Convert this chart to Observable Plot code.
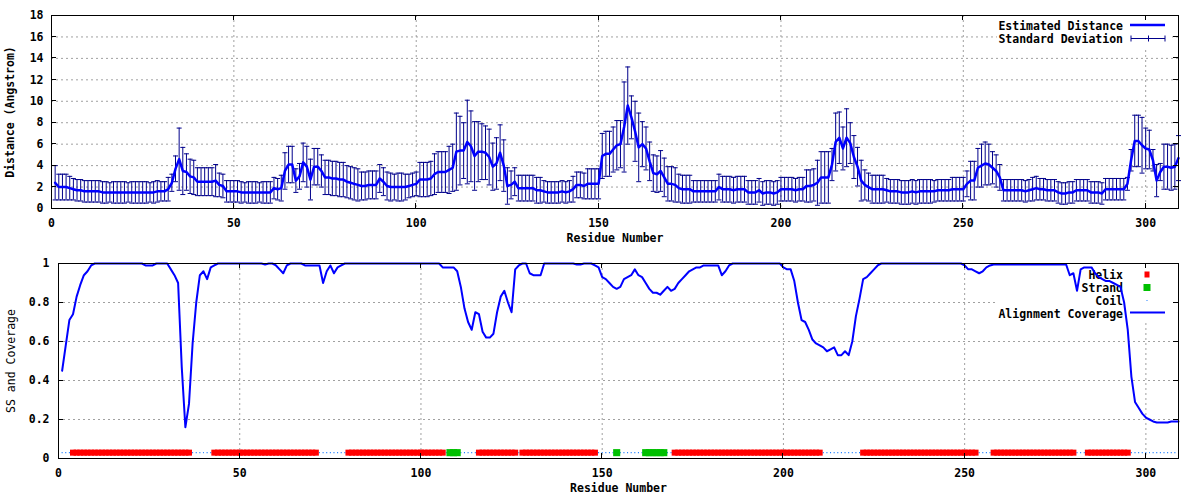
<!DOCTYPE html>
<html><head><meta charset="utf-8">
<script src="https://cdn.jsdelivr.net/npm/d3@7"></script>
<script src="https://cdn.jsdelivr.net/npm/@observablehq/plot@0.6"></script>
<style>
body{margin:0;background:#fff;width:1200px;height:500px;overflow:hidden;}
#chart svg{display:block;}
</style>
</head><body><div id="chart"></div>
<script>
// ---------- data ----------
const residues = d3.range(1, 310); // residue numbers 1..309

const distance = [
 2.4,2.0,2.0,2.0,1.9,1.8,1.7,1.7,1.6,1.6,
 1.6,1.6,1.6,1.5,1.5,1.5,1.5,1.5,1.5,1.5,
 1.5,1.5,1.5,1.5,1.5,1.5,1.5,1.5,1.6,1.6,
 1.6,1.8,2.4,3.7,4.6,3.5,3.4,3.0,2.9,2.5,
 2.5,2.5,2.5,2.5,2.6,2.2,2.1,1.6,1.6,1.6,
 1.6,1.5,1.5,1.5,1.5,1.5,1.5,1.5,1.5,1.5,
 1.9,1.8,1.9,3.5,4.1,4.1,2.6,3.0,4.3,3.9,
 2.7,3.9,3.9,3.5,2.9,2.9,2.8,2.8,2.7,2.7,
 2.5,2.4,2.3,2.2,2.1,2.1,2.2,2.2,2.2,2.8,
 2.5,2.1,2.0,2.0,2.0,2.0,2.0,2.1,2.2,2.3,
 2.7,2.7,2.7,2.8,3.2,3.4,3.4,3.4,3.6,3.8,
 5.3,5.4,5.4,6.2,5.8,4.9,5.3,5.3,5.2,4.8,
 3.9,4.2,5.2,4.0,2.1,2.2,2.5,1.9,1.9,1.9,
 1.9,1.9,1.7,1.7,1.6,1.5,1.5,1.5,1.5,1.6,
 1.5,1.6,1.8,2.2,2.2,2.1,2.3,2.3,2.3,2.3,
 4.9,5.1,5.1,5.5,5.9,6.0,7.6,9.6,8.5,7.2,
 5.7,6.0,5.6,4.4,3.3,3.2,3.5,2.9,2.3,2.3,
 2.2,1.9,1.8,1.8,1.8,1.6,1.6,1.6,1.6,1.6,
 1.6,1.6,2.0,1.8,1.8,1.8,1.7,1.8,1.8,1.8,
 1.5,1.5,1.5,1.7,1.4,1.5,1.5,1.4,1.5,1.8,
 1.8,1.8,1.8,1.7,1.8,1.8,2.1,2.1,2.2,2.4,
 2.9,2.9,2.9,4.1,6.2,6.6,5.6,6.6,6.1,4.8,
 3.9,2.6,2.2,2.0,1.8,1.8,1.8,1.8,1.7,1.6,
 1.6,1.6,1.5,1.5,1.5,1.6,1.5,1.6,1.6,1.6,
 1.6,1.6,1.7,1.7,1.7,1.7,1.8,1.8,1.8,1.8,
 2.3,2.6,2.6,3.8,4.0,4.2,4.1,3.8,3.5,2.9,
 1.7,1.7,1.7,1.7,1.7,1.7,1.6,1.7,1.8,1.9,
 1.8,1.8,1.7,1.7,1.7,1.5,1.4,1.4,1.5,1.5,
 1.7,1.7,1.7,1.7,1.5,1.5,1.5,1.4,1.8,1.8,
 1.8,1.8,1.8,1.8,2.3,4.5,6.3,6.3,5.9,5.6,
 5.5,4.5,2.6,3.4,3.9,3.9,3.8,3.9,4.7
];

const stdDev = [
 1.6,1.2,1.2,1.2,1.1,1.0,1.0,1.0,1.0,1.0,
 1.0,1.0,1.0,1.0,1.0,0.9,1.0,1.0,1.0,1.0,
 0.9,1.0,1.0,1.0,1.0,1.0,0.9,1.0,1.0,0.9,
 0.9,1.1,0.8,1.2,2.9,2.2,1.7,1.6,1.6,1.3,
 1.3,1.3,1.3,1.3,1.5,1.1,1.1,1.0,1.0,1.0,
 1.0,1.0,0.9,1.0,1.0,1.0,0.9,1.0,1.0,1.0,
 1.0,1.0,1.2,1.7,1.7,1.7,1.1,1.2,1.8,1.9,
 1.9,1.7,1.7,1.5,1.6,1.6,1.6,1.6,1.6,1.6,
 1.5,1.5,1.5,1.5,1.3,1.3,1.3,1.3,1.3,1.3,
 1.3,1.3,1.3,1.2,1.3,1.3,1.2,1.1,1.1,1.1,
 1.6,1.6,1.6,1.6,1.9,1.9,1.9,1.9,2.2,2.2,
 3.6,3.2,2.6,3.9,3.3,3.2,2.8,2.6,2.5,2.6,
 2.2,2.4,2.6,2.4,1.7,1.3,1.3,1.2,1.2,1.2,
 1.2,1.2,1.2,1.2,1.0,1.0,1.0,1.0,1.0,1.0,
 1.0,1.0,1.2,1.2,1.2,1.2,1.4,1.4,1.4,1.4,
 2.1,2.1,2.1,2.1,2.3,2.2,4.2,3.6,2.0,2.8,
 3.2,2.1,2.0,1.8,1.7,1.7,1.9,1.8,1.6,1.6,
 1.6,1.3,1.3,1.3,1.3,1.0,1.0,1.0,1.0,1.0,
 1.0,1.0,1.2,1.2,1.2,1.2,1.2,1.2,1.2,1.2,
 1.1,1.1,1.1,1.1,1.1,1.1,1.1,1.1,1.1,1.1,
 1.1,1.1,1.1,1.1,1.1,1.1,1.5,1.5,1.5,2.1,
 2.4,2.4,2.4,1.5,2.7,2.4,2.0,2.7,1.9,2.0,
 1.8,1.9,1.4,1.3,1.3,1.3,1.3,1.3,1.1,1.1,
 1.1,1.1,1.1,1.1,1.1,1.1,1.1,1.1,1.1,1.1,
 1.1,1.0,1.0,1.0,1.0,1.0,1.1,1.1,1.1,1.1,
 1.2,1.8,1.8,1.8,2.0,2.0,1.9,1.5,1.5,1.2,
 1.0,1.0,1.0,1.0,1.0,1.0,1.0,1.0,1.1,1.1,
 1.0,1.0,1.0,1.0,1.0,1.0,1.0,1.0,1.0,1.0,
 1.0,1.0,1.0,1.0,1.0,1.0,1.0,1.0,1.0,1.0,
 1.0,1.0,1.0,1.0,0.6,1.0,2.4,2.4,2.6,1.9,
 1.8,1.0,1.5,0.8,2.1,2.1,2.1,2.1,2.1
];

const coverage = [
 0.45,0.58,0.71,0.74,0.83,0.89,0.94,0.96,0.99,1.0,
 1.0,1.0,1.0,1.0,1.0,1.0,1.0,1.0,1.0,1.0,
 1.0,1.0,1.0,0.99,0.99,0.99,1.0,1.0,1.0,1.0,
 0.97,0.94,0.90,0.47,0.16,0.28,0.59,0.80,0.94,0.96,
 0.92,0.98,0.99,1.0,1.0,1.0,1.0,1.0,1.0,1.0,
 1.0,1.0,1.0,1.0,1.0,1.0,0.995,1.0,1.0,0.99,
 0.97,0.95,0.99,1.0,1.0,1.0,1.0,0.99,0.99,0.99,
 0.99,0.99,0.90,0.96,0.99,0.95,0.98,0.99,1.0,1.0,
 1.0,1.0,1.0,1.0,1.0,1.0,1.0,1.0,1.0,1.0,
 1.0,1.0,1.0,1.0,1.0,1.0,1.0,1.0,1.0,1.0,
 1.0,1.0,1.0,1.0,1.0,0.98,0.98,0.98,0.98,0.96,
 0.88,0.77,0.70,0.66,0.75,0.74,0.65,0.62,0.62,0.64,
 0.75,0.83,0.86,0.80,0.75,0.97,0.99,1.0,1.0,0.95,
 0.94,0.94,0.94,1.0,1.0,1.0,1.0,1.0,1.0,1.0,
 1.0,1.0,0.995,0.995,1.0,1.0,1.0,0.99,0.98,0.93,
 0.92,0.90,0.88,0.87,0.88,0.92,0.93,0.94,0.97,0.94,
 0.93,0.90,0.87,0.85,0.85,0.84,0.86,0.88,0.86,0.87,
 0.90,0.92,0.94,0.96,0.97,0.98,0.98,0.99,0.99,0.99,
 0.99,0.99,0.94,0.96,0.99,1.0,1.0,1.0,1.0,1.0,
 1.0,1.0,1.0,1.0,1.0,1.0,1.0,1.0,1.0,0.98,
 0.97,0.97,0.91,0.80,0.71,0.70,0.66,0.61,0.59,0.58,
 0.57,0.55,0.56,0.57,0.53,0.53,0.55,0.53,0.60,0.73,
 0.82,0.92,0.93,0.95,0.97,0.99,1.0,1.0,1.0,1.0,
 1.0,1.0,1.0,1.0,1.0,1.0,1.0,1.0,1.0,1.0,
 1.0,1.0,1.0,1.0,1.0,1.0,1.0,1.0,1.0,0.99,
 0.97,0.97,0.96,0.95,0.96,0.98,0.99,0.995,0.995,0.995,
 0.995,0.995,0.995,0.995,0.995,0.995,0.995,0.995,0.995,0.995,
 0.995,0.995,0.995,0.995,0.995,0.995,0.995,0.995,0.94,0.95,
 0.86,0.97,0.98,0.98,0.98,0.95,0.93,0.92,0.91,0.91,
 0.90,0.89,0.88,0.80,0.66,0.42,0.29,0.26,0.23,0.21,
 0.20,0.19,0.185,0.185,0.185,0.185,0.19,0.19,0.19
];

// secondary structure (residue ranges)
const helixRanges  = [[4,36],[43,71],[80,106],[116,126],[128,148],[170,210],[222,253],[258,280],[284,295]];
const strandRanges = [[108,110],[154,154],[162,167]];
const ssLevel = 0.03;

// ticks
const xTicks    = [0, 50, 100, 150, 200, 250, 300];
const distTicks = [0, 2, 4, 6, 8, 10, 12, 14, 16, 18];
const covTicks  = [0, 0.2, 0.4, 0.6, 0.8, 1];

// ---------- derived tables ----------
const distRows = residues.map((r, i) => ({r, m: distance[i], s: stdDev[i]}));
const covRows  = residues.map((r, i) => ({r, c: coverage[i]}));
const inRanges = (r, ranges) => ranges.some(([a, b]) => r >= a && r <= b);
const ssRows = residues.map(r => ({r, y: ssLevel,
  ss: inRanges(r, helixRanges) ? "H" : inRanges(r, strandRanges) ? "E" : "C"}));

// ---------- styles ----------
const FONT = "'DejaVu Sans Mono', 'Liberation Mono', monospace";
const GRID = {stroke: "#a0a0a0", strokeOpacity: 1, strokeDasharray: "2,3", strokeWidth: 1};
const LINE_BLUE = "#0000ff", BAR_NAVY = "#00008b";
const HELIX = "#ff0000", STRAND = "#00c000", COIL = "#1e7fff";

const capSymbol = {draw(ctx, size) { const w = Math.sqrt(size / Math.PI); ctx.moveTo(-w, 0); ctx.lineTo(w, 0); }};

// mirrored inward tick marks on all four frame sides
function frameTicks(xt, yt, len = 5) {
  return (index, scales, values, dim) => {
    const L = dim.marginLeft, R = dim.width - dim.marginRight, T = dim.marginTop, B = dim.height - dim.marginBottom;
    const g = d3.create("svg:g").attr("stroke", "black").attr("stroke-width", 1).attr("shape-rendering", "crispEdges");
    for (const v of xt) {
      const x = scales.x(v);
      g.append("line").attr("x1", x).attr("x2", x).attr("y1", B).attr("y2", B - len);
      g.append("line").attr("x1", x).attr("x2", x).attr("y1", T).attr("y2", T + len);
    }
    for (const v of yt) {
      const y = scales.y(v);
      g.append("line").attr("x1", L).attr("x2", L + len).attr("y1", y).attr("y2", y);
      g.append("line").attr("x1", R).attr("x2", R - len).attr("y1", y).attr("y2", y);
    }
    return g.node();
  };
}

// opaque key box (drawn above grid, below data)
function keyBox(w, h) {
  return (index, scales, values, dim) => {
    const R = dim.width - dim.marginRight, T = dim.marginTop;
    return d3.create("svg:rect").attr("x", R - 6 - w).attr("y", T + 1).attr("width", w).attr("height", h)
      .attr("fill", "white").node();
  };
}

function keyText(g, x, y, t) {
  g.append("text").attr("x", x).attr("y", y).attr("dy", "0.35em").attr("text-anchor", "end")
    .attr("font-family", FONT).attr("font-size", "11.5px").attr("font-weight", "bold").attr("fill", "black").text(t);
}

function topKey(index, scales, values, dim) {
  const R = dim.width - dim.marginRight, T = dim.marginTop;
  const g = d3.create("svg:g");
  const tx = R - 55, x1 = R - 48, x2 = R - 13;
  keyText(g, tx, T + 11, "Estimated Distance");
  g.append("line").attr("x1", x1).attr("x2", x2).attr("y1", T + 10).attr("y2", T + 10).attr("stroke", LINE_BLUE).attr("stroke-width", 2.5);
  keyText(g, tx, T + 24, "Standard Deviation");
  const y = T + 23.5;
  const e = g.append("g").attr("stroke", BAR_NAVY).attr("stroke-width", 1);
  e.append("line").attr("x1", x1 + 1).attr("x2", x2).attr("y1", y).attr("y2", y);
  for (const x of [x1 + 1, (x1 + x2) / 2 + 1, x2]) e.append("line").attr("x1", x).attr("x2", x).attr("y1", y - 3).attr("y2", y + 3);
  return g.node();
}

function bottomKeyText(index, scales, values, dim) {
  const R = dim.width - dim.marginRight, T = dim.marginTop;
  const g = d3.create("svg:g");
  const tx = R - 55;
  keyText(g, tx, T + 12, "Helix");
  keyText(g, tx, T + 25, "Strand");
  keyText(g, tx, T + 38, "Coil");
  keyText(g, tx, T + 51, "Alignment Coverage");
  return g.node();
}

function bottomKeySamples(index, scales, values, dim) {
  const R = dim.width - dim.marginRight, T = dim.marginTop;
  const g = d3.create("svg:g");
  const cx = R - 31;
  g.append("rect").attr("x", cx - 2.5).attr("y", T + 8.5).attr("width", 5).attr("height", 6).attr("fill", HELIX);
  g.append("rect").attr("x", cx - 3.5).attr("y", T + 21).attr("width", 7).attr("height", 7).attr("fill", STRAND);
  g.append("rect").attr("x", cx - 0.5).attr("y", T + 37).attr("width", 1).attr("height", 1).attr("fill", COIL);
  g.append("line").attr("x1", R - 48).attr("x2", R - 13).attr("y1", T + 49.5).attr("y2", T + 49.5).attr("stroke", LINE_BLUE).attr("stroke-width", 2);
  return g.node();
}

const baseStyle = {fontFamily: FONT, fontSize: "11.5px", fontWeight: "bold", background: "white", color: "black", overflow: "visible"};

// ---------- top panel ----------
const topChart = Plot.plot({
  width: 1200, height: 250,
  marginLeft: 51, marginRight: 22, marginTop: 15, marginBottom: 42,
  style: baseStyle,
  x: {domain: [0, 309], ticks: xTicks, tickSize: 0, tickPadding: 10, label: null},
  y: {domain: [0, 18], ticks: distTicks, tickSize: 0, tickPadding: 8, label: null},
  marks: [
    Plot.ruleY(distTicks, GRID),
    Plot.ruleX(xTicks, GRID),
    keyBox(175, 31),
    Plot.ruleX(distRows, {x: "r", y1: d => d.m - d.s, y2: d => d.m + d.s, stroke: BAR_NAVY, strokeWidth: 1}),
    Plot.dot(distRows, {x: "r", y: d => d.m + d.s, symbol: capSymbol, r: 2.5, fill: "none", stroke: BAR_NAVY, strokeWidth: 1}),
    Plot.dot(distRows, {x: "r", y: d => d.m - d.s, symbol: capSymbol, r: 2.5, fill: "none", stroke: BAR_NAVY, strokeWidth: 1}),
    Plot.line(distRows, {x: "r", y: "m", stroke: LINE_BLUE, strokeWidth: 2.5}),
    topKey,
    Plot.frame({stroke: "black", strokeWidth: 1}),
    frameTicks(xTicks, distTicks),
    Plot.text(["Residue Number"], {frameAnchor: "bottom", dy: 33, textAnchor: "middle", text: d => d, fill: "black"}),
    Plot.text(["Distance (Angstrom)"], {frameAnchor: "left", dx: -41, rotate: -90, textAnchor: "middle", text: d => d, fill: "black"})
  ]
});

// ---------- bottom panel ----------
const bottomChart = Plot.plot({
  width: 1200, height: 250,
  marginLeft: 58, marginRight: 22, marginTop: 13, marginBottom: 42,
  style: baseStyle,
  x: {domain: [0, 309], ticks: xTicks, tickSize: 0, tickPadding: 10, label: null},
  y: {domain: [0, 1], ticks: covTicks, tickSize: 0, tickPadding: 9, label: null,
      tickFormat: d => (d === 0 || d === 1) ? String(d) : d.toFixed(1)},
  marks: [
    Plot.ruleY(covTicks, GRID),
    Plot.ruleX(xTicks, GRID),
    keyBox(174, 57),
    bottomKeyText,
    Plot.dot(ssRows.filter(d => d.ss === "C"), {x: "r", y: "y", symbol: "square", r: 0.6, fill: COIL, stroke: "none"}),
    Plot.dot(ssRows.filter(d => d.ss === "H"), {x: "r", y: "y", symbol: "square", r: 3.4, fill: HELIX, stroke: "none"}),
    Plot.dot(ssRows.filter(d => d.ss === "E"), {x: "r", y: "y", symbol: "square", r: 4, fill: STRAND, stroke: "none"}),
    Plot.line(covRows, {x: "r", y: "c", stroke: LINE_BLUE, strokeWidth: 2}),
    bottomKeySamples,
    Plot.frame({stroke: "black", strokeWidth: 1}),
    frameTicks(xTicks, covTicks),
    Plot.text(["Residue Number"], {frameAnchor: "bottom", dy: 33, textAnchor: "middle", text: d => d, fill: "black"}),
    Plot.text(["SS and Coverage"], {frameAnchor: "left", dx: -47, rotate: -90, textAnchor: "middle", text: d => d, fill: "black", fontWeight: "normal"})
  ]
});

document.getElementById("chart").append(topChart, bottomChart);
</script>
</body></html>
